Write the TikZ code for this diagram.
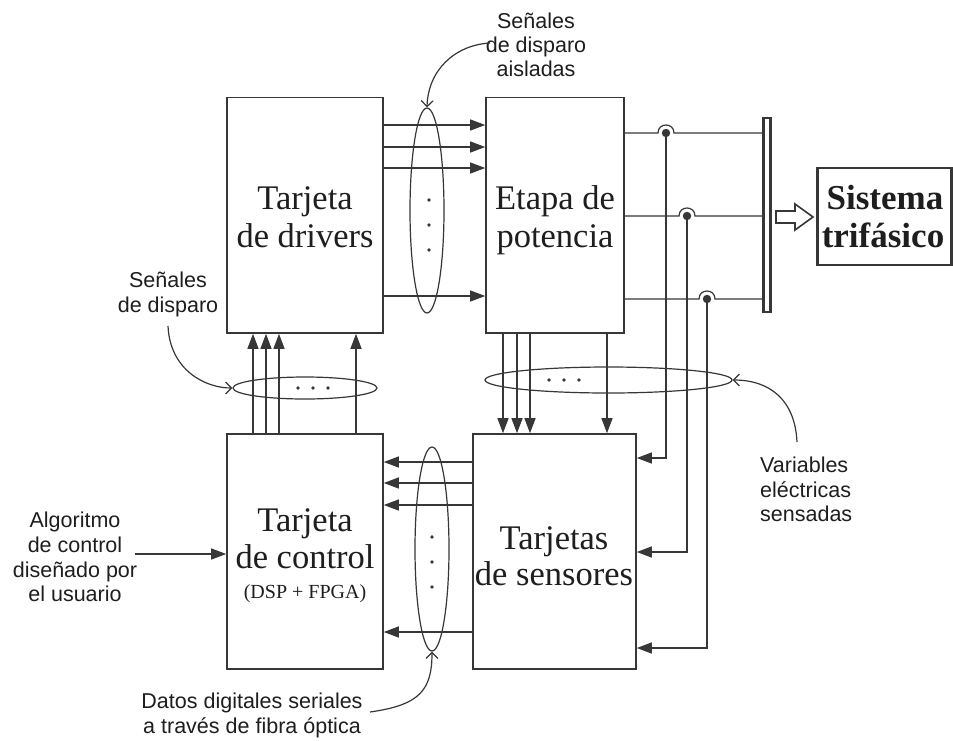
\documentclass[tikz,border=0pt]{standalone}
\usepackage{fontspec}
\setmainfont{Liberation Serif}
\newfontfamily\lsans{Liberation Sans}
\usetikzlibrary{arrows.meta,shapes.geometric,calc}
\definecolor{lc}{RGB}{55,55,55}
\definecolor{tc}{RGB}{30,30,30}
\begin{document}
\begin{tikzpicture}[x=1pt,y=-1pt,
  box/.style={draw=lc, line width=1.6pt, inner sep=0pt},
  ln/.style={draw=lc, line width=1.2pt},
  arr/.style={ln, -{Triangle[length=15pt,width=11pt]}},
  call/.style={draw=lc, line width=1.2pt, -{Straight Barb[length=6pt,width=12pt]}},
  blk/.style={font=\fontsize{34.5}{38}\selectfont, anchor=base, text=tc, inner sep=0pt},
  blks/.style={font=\fontsize{20}{24}\selectfont, anchor=base, text=tc, inner sep=0pt},
  sysf/.style={font=\bfseries\fontsize{35}{39}\selectfont, anchor=base, text=tc, inner sep=0pt},
  lab/.style={font=\lsans\fontsize{21.5}{25}\selectfont, anchor=base, text=tc, inner sep=0pt},
  ell/.style={ellipse, draw=lc, line width=1.2pt, inner sep=0pt},
  dot/.style={fill=lc}
]
\useasboundingbox[fill=white] (0,0) rectangle (953,740);

% main blocks
\node[box, minimum width=156, minimum height=235.5] (drv) at (305,215.25) {};
\node[box, minimum width=138, minimum height=235.5] (pot) at (555,215.25) {};
\node[box, minimum width=156, minimum height=235] (ctl) at (305,551.5) {};
\node[box, minimum width=163, minimum height=235] (sen) at (554.5,551.5) {};

\node[blk] (t1) at (305,209) {Tarjeta};
\node[blk] (t2) at (305,247) {de drivers};
\node[blk] (t3) at (555,209) {Etapa de};
\node[blk] (t4) at (555,247) {potencia};
\node[blk] (t5) at (305,531) {Tarjeta};
\node[blk] (t6) at (305,568) {de control};
\node[blks] (t7) at (305,598) {(DSP + FPGA)};
\node[blk] (t8) at (554,549) {Tarjetas};
\node[blk] (t9) at (554,585) {de sensores};

% bus bar and three-phase system
\node[draw=lc, line width=2.8pt, fill=white, minimum width=7, minimum height=194, inner sep=0pt] (bus) at (767,215) {};
\node[draw=lc, line width=2.4pt, minimum width=134, minimum height=97, inner sep=0pt] (sys) at (884.5,216.5) {};
\node[sysf] (s1) at (885,209) {Sistema};
\node[sysf] (s2) at (883,247) {trifásico};
\draw[lc, line width=1.6pt, fill=white]
  (776,211) -- (795,211) -- (795,204) -- (813,217) -- (795,230) -- (795,223) -- (776,223) -- cycle;

% drivers -> power
\foreach \y in {125,147,168,296}
  \draw[arr] (drv.east |- 0,\y) -- (pot.west |- 0,\y);
% control -> drivers
\foreach \x in {253,266,279,356}
  \draw[arr] (ctl.north -| \x,0) -- (drv.south -| \x,0);
% power -> sensors
\foreach \x in {503,517,530,607}
  \draw[arr] (pot.south -| \x,0) -- (sen.north -| \x,0);
% sensors -> control
\foreach \y in {462,483,505,632}
  \draw[arr] (sen.west |- 0,\y) -- (ctl.east |- 0,\y);

% power outputs with hops
\coordinate (h1) at (666,133);
\coordinate (h2) at (687,216);
\coordinate (h3) at (707,299);
\foreach \h in {h1,h2,h3}{
  \draw[ln] (pot.east |- \h) -- ($(\h)+(-8,0)$)
     .. controls ($(\h)+(-8,-10.7)$) and ($(\h)+(8,-10.7)$) .. ($(\h)+(8,0)$)
     -- (bus.west |- \h);
  \fill[lc] (\h) circle[radius=4.2];
}
\draw[arr] (h1) |- (sen.east |- 0,458);
\draw[arr] (h2) |- (sen.east |- 0,552);
\draw[arr] (h3) |- (sen.east |- 0,648);

% ellipses
\node[ell, minimum width=34, minimum height=205] (e1) at (427,210.5) {};
\node[ell, minimum width=34, minimum height=204] (e2) at (432,549) {};
\node[ell, minimum width=144, minimum height=22] (e3) at (305,388) {};
\node[ell, minimum width=247, minimum height=26] (e4) at (608.5,380) {};
\foreach \p in {(429,200),(429,225),(429,250),(432,537),(432,562),(432,587),
                (298,388),(313,388),(328,388),(549,380),(564,380),(579,380)}
  \fill[lc] \p circle[radius=1.8];

% labels
\node[lab] (a1) at (536,28) {Señales};
\node[lab] (a2) at (536,52) {de disparo};
\node[lab] (a3) at (536,76) {aisladas};
\node[lab] (b1) at (168,287) {Señales};
\node[lab] (b2) at (168,312) {de disparo};
\node[lab, anchor=base west] (v1) at (760,472) {Variables};
\node[lab, anchor=base west] (v2) at (760,497) {eléctricas};
\node[lab, anchor=base west] (v3) at (760,521) {sensadas};
\node[lab] (g1) at (75,527) {Algoritmo};
\node[lab] (g2) at (75,552) {de control};
\node[lab] (g3) at (75,577) {diseñado por};
\node[lab] (g4) at (75,601) {el usuario};
\node[lab] (d1) at (252,708) {Datos digitales seriales};
\node[lab] (d2) at (252,733) {a través de fibra óptica};

% callouts
\coordinate (c1) at (490,43);
\coordinate (c2) at (168,326);
\coordinate (c3) at (797,442);
\coordinate (c4) at (370,712);
\coordinate (c5) at (135,554);
\draw[call] (c1) .. controls (455,45) and (428,70) .. (e1.north);
\draw[call] (c2) .. controls (170,370) and (205,388) .. (e3.west);
\draw[call] (c3) .. controls (795,400) and (770,380) .. (e4.east);
\draw[call] (c4) .. controls (420,705) and (432,690) .. (e2.south);
\draw[arr] (c5) -- (ctl.west |- c5);
\end{tikzpicture}
\end{document}
